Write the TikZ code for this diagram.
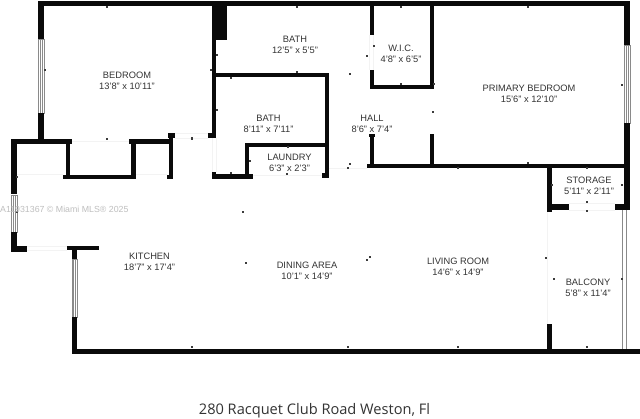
\documentclass[tikz,border=0pt]{standalone}
\usepackage{fontspec}
\setmainfont{Liberation Sans}
\newfontfamily\capfont{Open Sans}
\definecolor{wall}{HTML}{0A0A0A}
\definecolor{labelc}{HTML}{333333}
\definecolor{winc}{HTML}{8A8A8A}
\definecolor{faint}{HTML}{F3F3F3}
\newcommand{\wl}[4]{\fill[wall] (#1,#2) rectangle (#3,#4);}
\newcommand{\win}[4]{\draw[winc,line width=.6pt,fill=white] (#1,#2) rectangle (#3,#4);\draw[winc,line width=.5pt] ({(#1+#3)/2-.8},#2) -- ({(#1+#3)/2-.8},#4) ({(#1+#3)/2+.8},#2) -- ({(#1+#3)/2+.8},#4);}
\tikzset{
  room/.style={align=center,text=labelc,font=\fontsize{9.3}{11.2}\selectfont,inner sep=0pt},
  tick/.style={fill=wall!80,inner sep=0pt,minimum size=1.5pt,shape=rectangle},
  opening/.style={faint,line width=.6pt}
}
\begin{document}
\begin{tikzpicture}[x=1pt,y=-1pt]
\useasboundingbox (0,0) rectangle (640,419);
\fill[white] (0,0) rectangle (640,419);
% faint openings
\draw[opening] (17,174) -- (63,174) (136,174) -- (167,174) (72,141) -- (129,141);
\draw[opening] (175,133) -- (208,133) (175,138) -- (208,138) (212,138) -- (212,172) (216,138) -- (216,172);
\draw[opening] (253,175) -- (322,175) (329,168) -- (367,168) (27,246) -- (67,246) (27,250) -- (67,250);
\draw[opening] (547,212) -- (547,324) (569,203) -- (615,203) (569,210) -- (615,210);
\draw[opening] (369,35) -- (369,70) (373,35) -- (373,70);
% windows
\win{38.5}{39}{44}{113}
\win{624.5}{45}{630}{123}
\win{11}{195}{17}{232}
\win{72}{259}{77}{317}
% balcony rails
\draw[winc,line width=.7pt] (622.5,210) -- (622.5,350) (626.5,210) -- (626.5,350);
% walls
\wl{38}{1}{630}{6.5}
\wl{38}{1}{44}{39}
\wl{38}{113}{44}{144}
\wl{11}{139}{72}{144.5}
\wl{129}{139}{169}{144.5}
\wl{11}{139}{17}{194}
\wl{11}{232}{17}{252}
\wl{11}{246}{27}{252}
\wl{66}{144}{70}{176}
\wl{131}{144}{136}{176}
\wl{63}{175}{136}{179}
\wl{169}{133}{173}{179}
\wl{168}{133}{175}{138}
\wl{167}{175}{173}{179}
\wl{212}{6}{216}{138}
\wl{208}{133}{216}{138}
\wl{212}{6}{227}{40}
\wl{216}{73.5}{329}{77}
\wl{325}{74}{329}{178}
\wl{322}{173}{329}{178}
\wl{245}{143}{328}{147}
\wl{245}{143}{249}{178}
\wl{212}{174.5}{253}{179}
\wl{212}{172}{216}{179}
\wl{369.5}{6}{373.5}{35}
\wl{369.5}{70}{373.5}{89}
\wl{430}{6}{434}{89}
\wl{369.5}{85}{434}{89}
\wl{370}{134}{374}{166}
\wl{368.5}{134}{375}{137}
\wl{429.5}{134}{434}{166}
\wl{367}{164}{625}{168}
\wl{624}{1}{630}{45}
\wl{624}{123}{630}{210}
\wl{547}{166}{552}{212.5}
\wl{552}{204}{569}{210}
\wl{615}{204}{630}{210}
\wl{547}{324}{552}{350}
\wl{72}{349}{640}{354}
\wl{72}{250}{77}{259}
\wl{67}{246}{99}{250}
\wl{72}{317}{77}{354}
% ticks
\foreach \tx/\ty [count=\ti] in {107/7,297/7,401/7,528/7,45/70,217/55,211/70,297/72,231/78,217/110,192/139,107/139,17/177,288/147,287/174,250/161,231/173,192/138,374/46,367/56,350/74,401/84,434/84,433/112,622/85,528/163,458/168,350/164,348/168,552/185,622/185,587/168,587/202,587/211,546/258,554/279,622/279,348/347,458/347,587/347,243/212,246/263,367/260,370/257,192/347,17/212}
  \node[tick] (t\ti) at (\tx,\ty) {};
% labels
\node[room] (bedroom) at (127,81) {BEDROOM\\13'8" x 10'11"};
\node[room] (bath1) at (295,45) {BATH\\12'5" x 5'5"};
\node[room] (bath2) at (268.5,124) {BATH\\8'11" x 7'11"};
\node[room] (laundry) at (289.5,162.5) {LAUNDRY\\6'3" x 2'3"};
\node[room] (wic) at (401,54) {W.I.C.\\4'8" x 6'5"};
\node[room] (hall) at (372,124) {HALL\\8'6" x 7'4"};
\node[room] (primary) at (529,94) {PRIMARY BEDROOM\\15'6" x 12'10"};
\node[room] (storage) at (589,185.5) {STORAGE\\5'11" x 2'11"};
\node[room] (kitchen) at (149.5,261.5) {KITCHEN\\18'7" x 17'4"};
\node[room] (dining) at (307,270.5) {DINING AREA\\10'1" x 14'9"};
\node[room] (living) at (458,266.5) {LIVING ROOM\\14'6" x 14'9"};
\node[room] (balcony) at (588,288) {BALCONY\\5'8" x 11'4"};
\node[text=black!25,font=\fontsize{8.8}{10}\selectfont,anchor=west,inner sep=0pt] (mark) at (0,209.5) {A11931367 © Miami MLS® 2025};
\node[text=labelc,font=\capfont\fontsize{14.6}{16}\selectfont,inner sep=0pt] (addr) at (314.5,411) {280 Racquet Club Road Weston, Fl};
\end{tikzpicture}
\end{document}
